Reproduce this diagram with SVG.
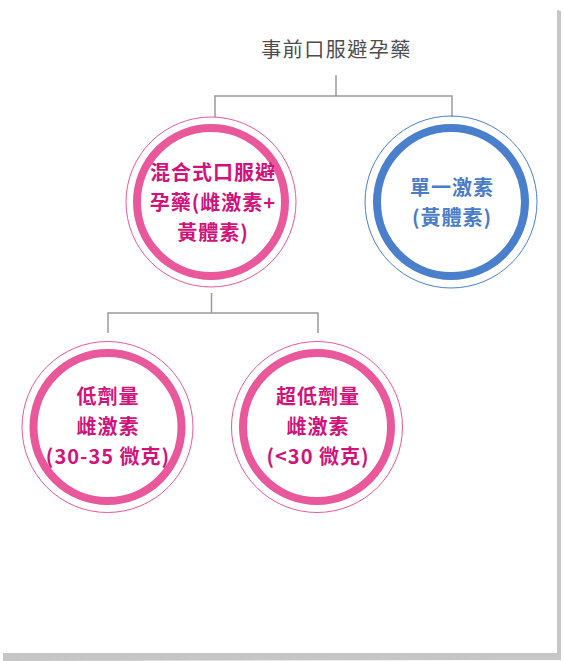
<svg xmlns="http://www.w3.org/2000/svg" width="564" height="661" viewBox="0 0 564 661">
<style>
  .t{font-family:"Noto Sans CJK TC","Noto Sans CJK SC",sans-serif;font-size:20px;letter-spacing:1.5px;text-anchor:middle}
  .title{fill:#4d4d4d}
  .pk{fill:#d0127a;font-weight:bold;letter-spacing:1px}
  .bl{fill:#4a7cc6;font-weight:bold;letter-spacing:1px}
  .conn{fill:none;stroke:#9a9a9a;stroke-width:1.5}
  .pthin{fill:none;stroke:#e8589a;stroke-width:1}
  .pthick{fill:none;stroke:#e8589a;stroke-width:8}
  .bthin{fill:none;stroke:#4a7fcb;stroke-width:1}
  .bthick{fill:none;stroke:#4a7fcb;stroke-width:8}
</style>
<rect x="0" y="0" width="564" height="661" fill="#ffffff"/>
<polygon points="557,10 561,11 561,660 3,661 3,653 557,653" fill="#c6c6c6"/>
<rect x="0" y="0" width="557" height="653" fill="#ffffff"/>
<g id="connectors">
  <path class="conn" d="M336,75 V96 M215,117 V96 H452 V117"/>
  <path class="conn" d="M211.5,293 V313 M108,333 V313 H318 V333"/>
</g>
<g id="root">
  <text class="t title" x="336.5" y="57">事前口服避孕藥</text>
</g>
<g id="combined">
  <circle class="pthin" cx="211" cy="202" r="85"/>
  <circle class="pthick" cx="211" cy="202" r="74"/>
  <text class="t pk" x="213" y="180">混合式口服避</text>
  <text class="t pk" x="213" y="210">孕藥(雌激素+</text>
  <text class="t pk" x="213" y="240">黃體素)</text>
</g>
<g id="single">
  <circle class="bthin" cx="451" cy="202" r="86"/>
  <circle class="bthick" cx="451" cy="202" r="74"/>
  <text class="t bl" x="452" y="195">單一激素</text>
  <text class="t bl" x="452" y="225">(黃體素)</text>
</g>
<g id="low">
  <circle class="pthin" cx="107.5" cy="427" r="85.5"/>
  <circle class="pthick" cx="107.5" cy="427" r="74"/>
  <text class="t pk" x="108" y="404">低劑量</text>
  <text class="t pk" x="108" y="434">雌激素</text>
  <text class="t pk" x="108" y="464">(30-35 微克)</text>
</g>
<g id="ultralow">
  <circle class="pthin" cx="317" cy="427" r="85.5"/>
  <circle class="pthick" cx="317" cy="427" r="74"/>
  <text class="t pk" x="318" y="404">超低劑量</text>
  <text class="t pk" x="318" y="434">雌激素</text>
  <text class="t pk" x="318" y="464">(&lt;30 微克)</text>
</g>
</svg>
